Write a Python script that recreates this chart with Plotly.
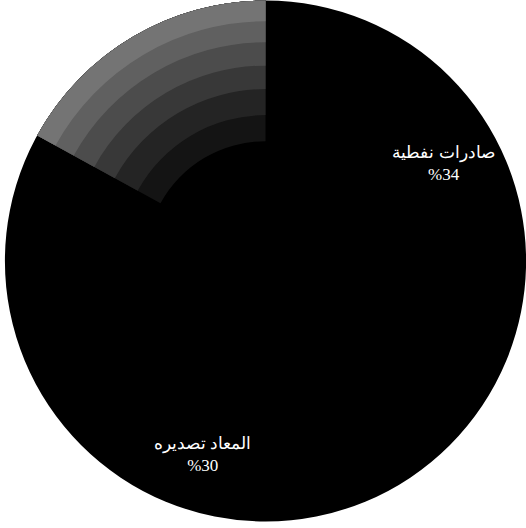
import plotly.graph_objects as go

# slice data (clockwise from 12 o'clock)
labels = ["صادرات نفطية", "ـ", "المعاد تصديره", "ـــ", "ــــــ"]
values = [34, 6, 30, 13, 17]
shown = [True, False, True, False, False]
shaded = [False, False, False, False, True]

texts = [f"{l}<br>%{v}" if s else "" for l, v, s in zip(labels, values, shown)]

common = dict(
    labels=labels, values=values, sort=False, direction="clockwise", rotation=0,
    showlegend=False, hoverinfo="none",
)

fig = go.Figure()
# solid black base disk
fig.add_trace(go.Pie(
    labels=["base"], values=[sum(values)], sort=False, showlegend=False,
    hoverinfo="none", textinfo="none",
    marker=dict(colors=["#000000"], line=dict(width=0)),
))
# grey shading of the unlabeled slice, lighter toward the rim
bands = [(0.46, "#141414"), (0.56, "#242424"), (0.66, "#383838"),
         (0.75, "#4c4c4c"), (0.84, "#606060"), (0.92, "#747474")]
for hole, shade in bands:
    fig.add_trace(go.Pie(
        **common, hole=hole, textinfo="none",
        marker=dict(colors=[shade if s else "rgba(0,0,0,0)" for s in shaded], line=dict(width=0)),
    ))
# text-bearing ring
fig.add_trace(go.Pie(
    **common, hole=0.56, text=texts, textinfo="text", textposition="inside",
    insidetextorientation="horizontal",
    textfont=dict(family="Liberation Serif, DejaVu Serif, serif", size=17, color="white"),
    marker=dict(colors=["rgba(0,0,0,0)"] * len(values), line=dict(width=0)),
))

fig.update_layout(
    width=526, height=528,
    margin=dict(l=5, r=0, t=0, b=6),
    paper_bgcolor="white",
    plot_bgcolor="white",
)
fig.write_html("out.html", config={"displayModeBar": False},
               post_script="document.body.style.margin='0';")
